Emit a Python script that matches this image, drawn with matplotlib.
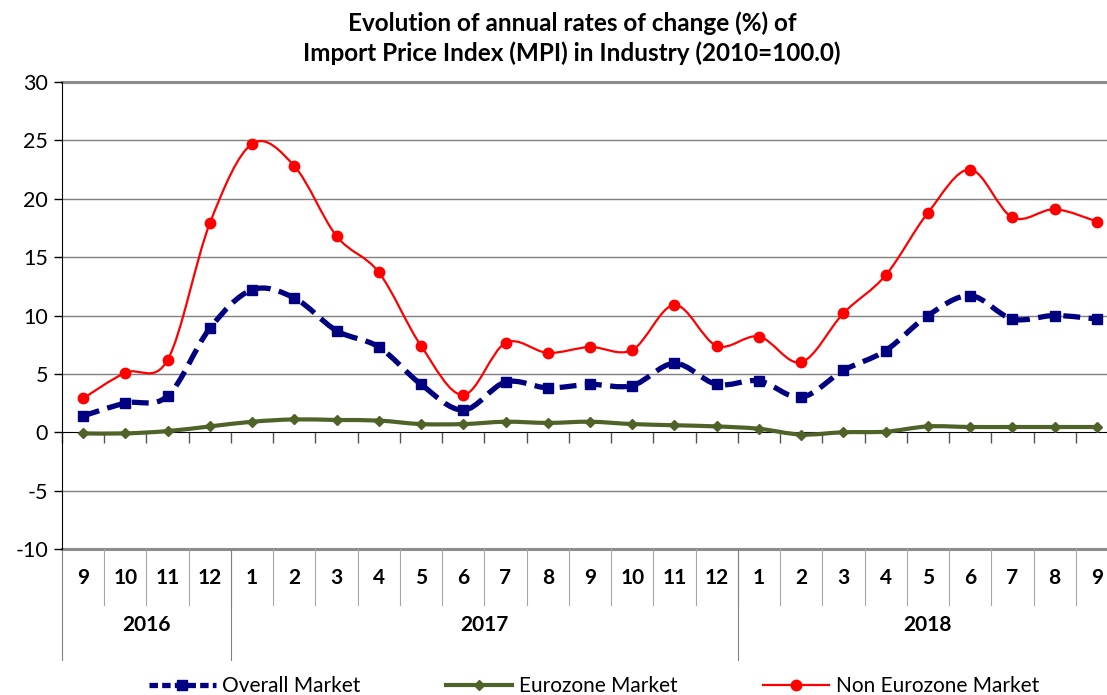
import matplotlib
matplotlib.use("Agg")
import matplotlib.pyplot as plt
from matplotlib.path import Path
from matplotlib.patches import PathPatch
from matplotlib.lines import Line2D
import matplotlib.transforms as mtransforms
import numpy as np

months = ['9', '10', '11', '12',
          '1', '2', '3', '4', '5', '6', '7', '8', '9', '10', '11', '12',
          '1', '2', '3', '4', '5', '6', '7', '8', '9']
years = ['2016', '2017', '2018']
year_sizes = [4, 12, 9]

overall = [1.4, 2.5, 3.1, 8.9, 12.2, 11.5, 8.7, 7.3, 4.1, 1.9, 4.3, 3.8, 4.1, 4.0, 5.9, 4.1,
           4.4, 3.0, 5.3, 7.0, 10.0, 11.7, 9.7, 10.0, 9.7]
eurozone = [-0.1, -0.1, 0.1, 0.5, 0.9, 1.1, 1.05, 1.0, 0.7, 0.7, 0.9, 0.8, 0.9, 0.7, 0.6, 0.5,
            0.3, -0.2, 0.0, 0.05, 0.5, 0.45, 0.45, 0.45, 0.45]
non_eurozone = [2.9, 5.1, 6.2, 17.9, 24.7, 22.8, 16.8, 13.7, 7.4, 3.2, 7.65, 6.8, 7.3, 7.05, 10.9, 7.4,
                8.2, 6.0, 10.2, 13.45, 18.8, 22.5, 18.4, 19.1, 18.05]

plt.rcParams['font.family'] = ['Lato', 'DejaVu Sans']
plt.rcParams['axes.unicode_minus'] = False

fig = plt.figure(figsize=(11.07, 6.95), dpi=100)
W, H = 1107, 695
ax = fig.add_axes([62 / W, (H - 549) / H, (1118 - 62) / W, (549 - 82) / H])

x = np.arange(len(months))


def smooth_path(xs, ys):
    # Excel-like smoothed line: cubic bezier segments (catmull-rom control points)
    pts = np.column_stack([xs, ys]).astype(float)
    n = len(pts)
    verts = [pts[0]]
    codes = [Path.MOVETO]
    for i in range(n - 1):
        p0 = pts[max(i - 1, 0)]
        p1 = pts[i]
        p2 = pts[i + 1]
        p3 = pts[min(i + 2, n - 1)]
        c1 = p1 + (p2 - p0) / 6
        c2 = p2 - (p3 - p1) / 6
        verts += [c1, c2, p2]
        codes += [Path.CURVE4] * 3
    return Path(verts, codes)


blue = '#000080'
green = '#4f6228'
red = '#ff0000'

for yv in [-5, 5, 10, 15, 20, 25]:
    ax.axhline(yv, color='#7f7f7f', lw=1, zorder=0)
ax.axhline(30, color='#8c8c8c', lw=2.2, zorder=0, clip_on=False)
ax.axhline(-10, color='#8c8c8c', lw=2.2, zorder=0, clip_on=False)

ax.add_patch(PathPatch(smooth_path(x, eurozone), fill=False, color=green, lw=3, zorder=3))
ax.plot(x, eurozone, ls='none', marker='D', ms=5, color=green, zorder=4)

ax.add_patch(PathPatch(smooth_path(x, overall), fill=False, color=blue, lw=3.8,
                       linestyle=(0, (3.2, 1.6)), zorder=5))
ax.plot(x, overall, ls='none', marker='s', ms=7.5, color=blue, zorder=6)

ax.add_patch(PathPatch(smooth_path(x, non_eurozone), fill=False, color=red, lw=1.6, zorder=7))
ax.plot(x, non_eurozone, ls='none', marker='o', ms=7.5, color=red, zorder=8)

ax.set_xlim(-0.5, len(months) - 0.5)
ax.set_ylim(-10, 30)
ax.set_yticks(range(-10, 31, 5))
ax.tick_params(axis='y', labelsize=15.5, length=6, width=1, color='black', pad=4)

ax.spines['top'].set_visible(False)
ax.spines['right'].set_visible(False)
ax.spines['bottom'].set_position(('data', 0))
ax.spines['left'].set_color('black')
ax.set_xticks(np.arange(-0.5, len(months), 1))
ax.set_xticklabels([])
ax.tick_params(axis='x', direction='out', length=8, width=1, color='#555555')

trans = mtransforms.blended_transform_factory(ax.transData, ax.transAxes)
for i, m in enumerate(months):
    ax.text(i, -0.062, m, transform=trans, ha='center', va='center',
            fontsize=15, fontweight='bold')
for b in np.arange(0.5, len(months) - 1, 1):
    ax.plot([b, b], [0, -0.12], transform=trans, color='#a6a6a6', lw=0.8, clip_on=False)

start = 0
bounds = [-0.5]
for yr, n in zip(years, year_sizes):
    centre = start + (n - 1) / 2
    ax.text(centre, -0.163, yr, transform=trans, ha='center', va='center',
            fontsize=15, fontweight='bold')
    start += n
    bounds.append(start - 0.5)
for b in bounds[:-1]:
    ax.plot([b, b], [0, -0.238], transform=trans, color='#808080', lw=0.8, clip_on=False)

fig.text(572 / W, 1 - 38 / H, 'Evolution of annual rates of change (%) of\n'
         'Import Price Index (MPI) in Industry (2010=100.0)',
         ha='center', va='center', fontsize=17.5, fontweight='bold', linespacing=1.3)

handles = [
    Line2D([], [], color=blue, lw=3.8, ls=(0, (1.6, 0.8)), marker='s', ms=7.5),
    Line2D([], [], color=green, lw=3, marker='D', ms=5),
    Line2D([], [], color=red, lw=1.6, marker='o', ms=7.5),
]
fig.legend(handles, ['Overall Market', 'Eurozone Market', 'Non Eurozone Market'],
           loc='center', bbox_to_anchor=(594 / W, 1 - 686 / H), ncol=3, frameon=False,
           fontsize=15, handlelength=3.2, handletextpad=0.3, columnspacing=4.1,
           borderaxespad=0)

fig.savefig('out.png', dpi=100)
